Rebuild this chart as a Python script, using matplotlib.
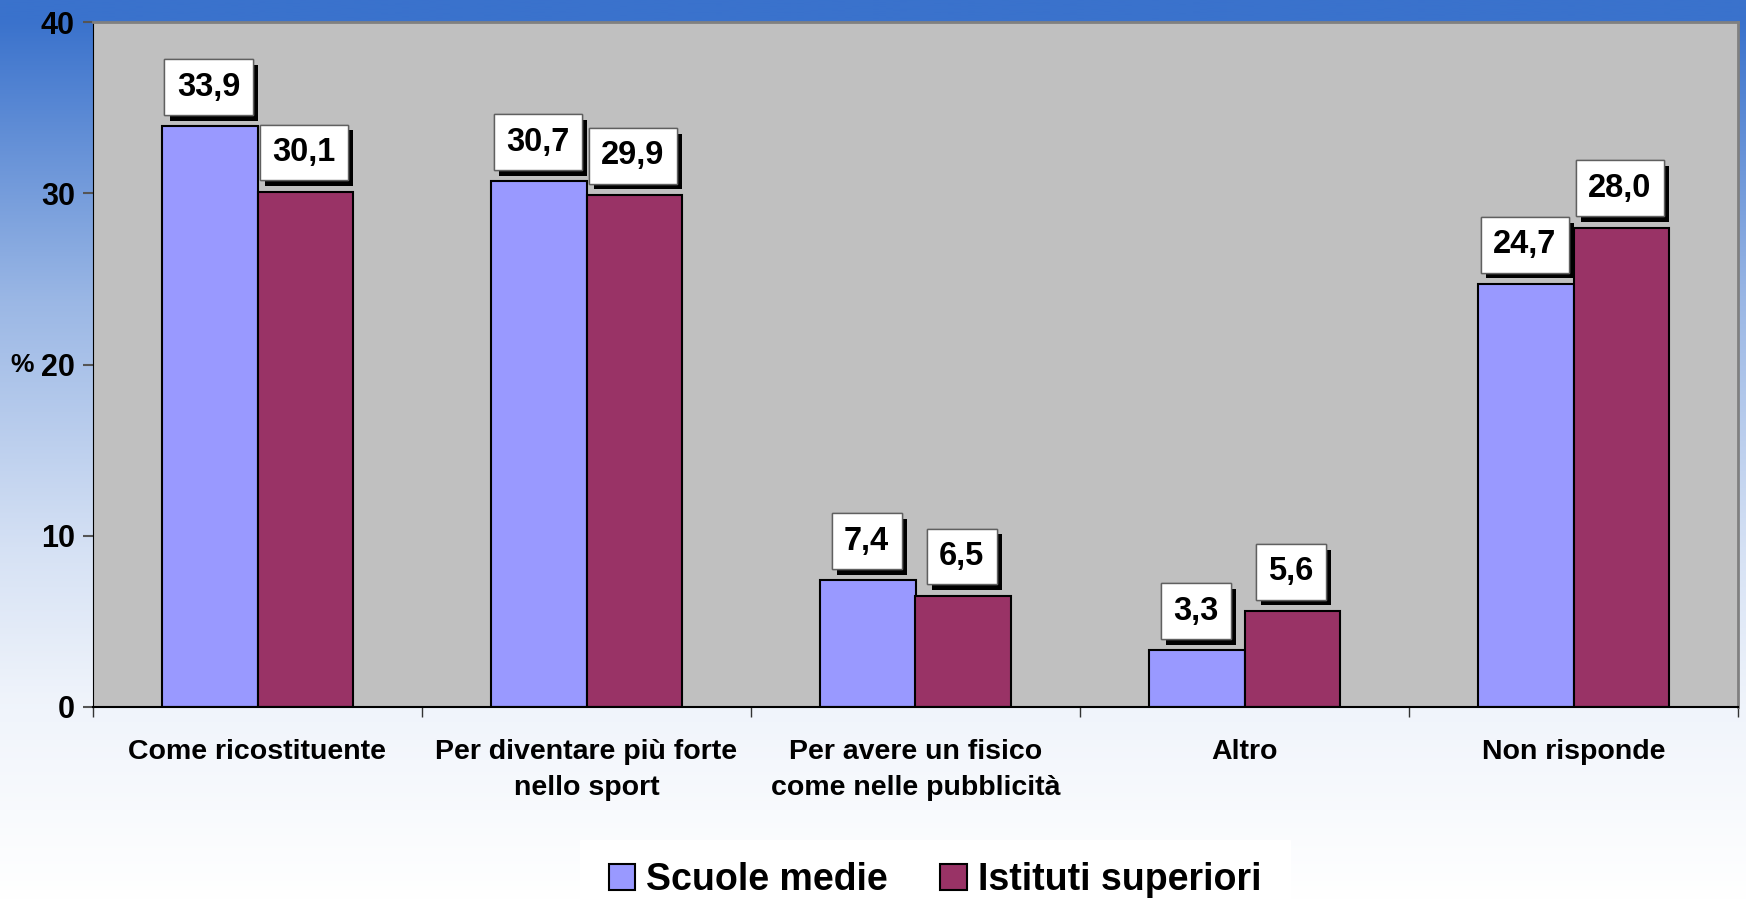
import numpy as np
import matplotlib
matplotlib.use('Agg')
import matplotlib.pyplot as plt
import matplotlib.patheffects as pe
from matplotlib.patches import Rectangle

# Dati
categorie = ['Come ricostituente', 'Per diventare più forte\nnello sport',
             'Per avere un fisico\ncome nelle pubblicità', 'Altro', 'Non risponde']
scuole_medie = [33.9, 30.7, 7.4, 3.3, 24.7]
istituti_superiori = [30.1, 29.9, 6.5, 5.6, 28.0]
serie = ['Scuole medie', 'Istituti superiori']

plt.rcParams['font.family'] = ['Liberation Sans', 'DejaVu Sans']
plt.rcParams['font.weight'] = 'bold'

fig = plt.figure(figsize=(17.46, 9.0), dpi=100)

# sfondo sfumato blu -> bianco
bg = fig.add_axes([0, 0, 1, 1], zorder=-10)
yy = np.linspace(0, 900, 400)
frac = np.interp(yy, [0, 20, 300, 550, 700, 900], [0, 0, 0.49, 0.79, 0.92, 1.0])
blu = np.array([58, 114, 204]) / 255.0
grad = blu[None, :] * (1 - frac[:, None]) + frac[:, None]
bg.imshow(grad[:, None, :], aspect='auto', extent=[0, 1, 0, 1], origin='upper')
bg.add_patch(Rectangle((580 / 1746, 0), 710 / 1746, 60 / 900, color='white', zorder=2))
bg.set_axis_off()

ax = fig.add_axes([93 / 1746, 1 - 707 / 900, (1738 - 93) / 1746, (707 - 22) / 900])
ax.set_facecolor('#C0C0C0')

x = np.arange(len(categorie))
w = 0.289
b1 = ax.bar(x - w / 2, scuole_medie, w, color='#9999FF', edgecolor='black', linewidth=1.5, label=serie[0])
b2 = ax.bar(x + w / 2, istituti_superiori, w, color='#993366', edgecolor='black', linewidth=1.5, label=serie[1])

# etichette dei valori in riquadri bianchi con ombra
for bars, vals in [(b1, scuole_medie), (b2, istituti_superiori)]:
    for r, v in zip(bars, vals):
        t = ax.annotate(f'{v:.1f}'.replace('.', ','), (r.get_x() + r.get_width() / 2, v),
                        xytext=(-1, 17), textcoords='offset points', ha='center', va='bottom',
                        fontsize=23.5, fontweight='bold',
                        bbox=dict(boxstyle='square,pad=0.38', fc='white', ec='#606060', lw=1))
        t.get_bbox_patch().set_path_effects([
            pe.withSimplePatchShadow(offset=(4, -4), shadow_rgbFace='black', alpha=1.0),
            pe.Normal()])

ax.set_xlim(-0.5, len(categorie) - 0.5)
ax.set_ylim(0, 40)
ax.set_yticks([0, 10, 20, 30, 40])
ax.tick_params(axis='y', length=7, width=1.5, color='#555555', labelsize=22, pad=6)
ax.set_xticks(x)
ax.set_xticklabels(categorie, fontsize=20.5, linespacing=1.5)
ax.tick_params(axis='x', which='major', length=0, pad=23)
ax.set_xticks(np.arange(len(categorie) + 1) - 0.5, minor=True)
ax.tick_params(axis='x', which='minor', length=7, width=1, color='#333333')
for lab in ax.get_yticklabels() + ax.get_xticklabels():
    lab.set_fontweight('bold')

ax.set_ylabel('%', rotation=0, fontsize=19, fontweight='bold', va='center')
ax.yaxis.set_label_coords(-0.043, 0.5)

ax.spines['left'].set_color('black')
ax.spines['bottom'].set_color('black')
ax.spines['bottom'].set_linewidth(1.5)
ax.spines['top'].set_color('#808080')
ax.spines['right'].set_color('#808080')
ax.spines['top'].set_linewidth(2)
ax.spines['right'].set_linewidth(2)

fig.legend(loc='center', bbox_to_anchor=(935 / 1746, 1 - 880 / 900), ncol=2, frameon=False,
           prop={'size': 27, 'weight': 'bold'}, handlelength=0.7, handleheight=0.7,
           handletextpad=0.3, columnspacing=1.4)

fig.savefig('out.png', dpi=100)
